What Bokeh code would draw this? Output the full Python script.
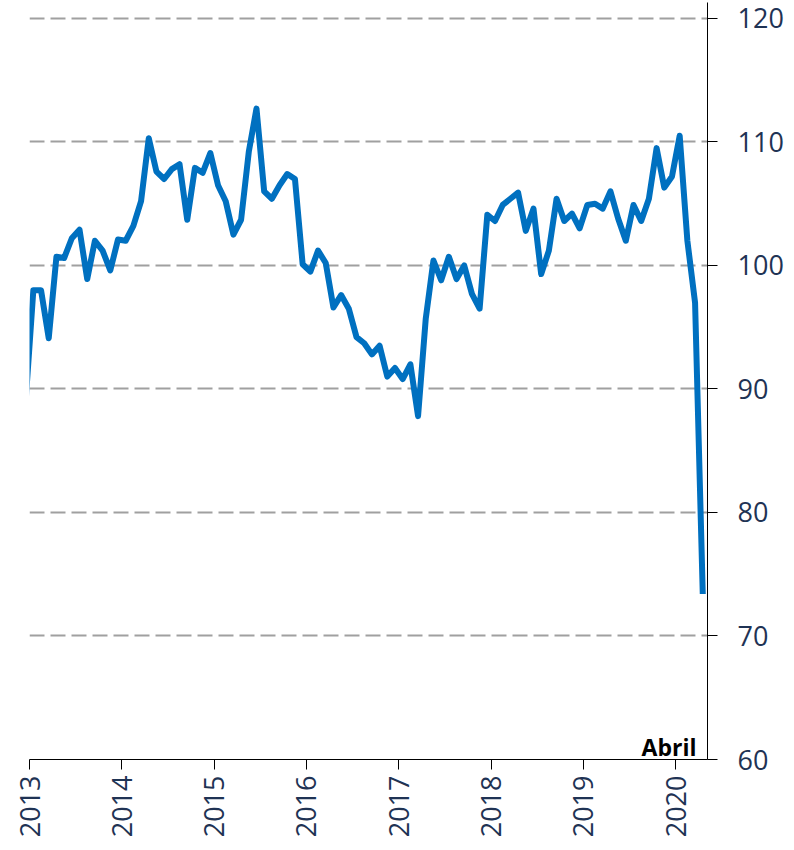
from math import pi
from bokeh.plotting import figure
from bokeh.models import Range1d, FixedTicker, Label, ColumnDataSource
from bokeh.embed import file_html
from bokeh.resources import INLINE

# ---- data (monthly index, Dec 2012 .. Apr 2020) ----
start_year = 2012
start_month = 12
values = [
    89.0,
    98.0, 98.0, 94.1, 100.7, 100.6, 102.2, 102.9, 98.9, 102.0, 101.2, 99.6, 102.1,
    102.0, 103.2, 105.2, 110.3, 107.6, 107.0, 107.8, 108.2, 103.7, 107.9, 107.5, 109.1,
    106.5, 105.2, 102.5, 103.7, 109.2, 112.7, 106.0, 105.4, 106.5, 107.4, 107.0, 100.1,
    99.5, 101.2, 100.2, 96.6, 97.6, 96.5, 94.2, 93.7, 92.8, 93.5, 91.0, 91.7,
    90.8, 92.0, 87.8, 95.7, 100.4, 98.8, 100.7, 98.9, 100.0, 97.7, 96.5, 104.1,
    103.6, 104.9, 105.4, 105.9, 102.8, 104.6, 99.3, 101.2, 105.4, 103.6, 104.2, 103.0,
    104.9, 105.0, 104.6, 106.0, 103.8, 102.0, 104.9, 103.6, 105.4, 109.5, 106.3, 107.2,
    110.5, 102.0, 97.0, 73.4,
]
year_ticks = [2013, 2014, 2015, 2016, 2017, 2018, 2019, 2020]
y_ticks = [60, 70, 80, 90, 100, 110, 120]
annotation_text = "Abril"

# mid-month positions in decimal years
xs = [start_year + (start_month - 1 + i + 0.5) / 12 for i in range(len(values))]
source = ColumnDataSource(data=dict(x=xs, y=values))

x_start, x_end = 2013.0, 2020.343
y_start, y_end = 60, 121.29

text_color = "#1F3354"
line_color = "#0070C0"

p = figure(
    width=786, height=840,
    x_range=Range1d(x_start, x_end), y_range=Range1d(y_start, y_end),
    y_axis_location="right",
    output_backend="svg", toolbar_location=None,
    min_border_left=29, min_border_right=78, min_border_top=2, min_border_bottom=79,
)
p.outline_line_color = None
p.background_fill_color = "white"
p.border_fill_color = "white"

p.xgrid.visible = False
p.ygrid.ticker = FixedTicker(ticks=y_ticks)
p.ygrid.grid_line_color = "#A0A0A0"
p.ygrid.grid_line_width = 2
p.ygrid.grid_line_dash = "15 6"

yax = p.yaxis[0]
yax.ticker = FixedTicker(ticks=y_ticks)
yax.axis_line_color = "black"
yax.axis_line_width = 1
yax.major_tick_line_color = "black"
yax.major_tick_out = 10
yax.major_tick_in = 0
yax.minor_tick_line_color = None
yax.major_label_text_font = "Open Sans"
yax.major_label_text_font_size = "27px"
yax.major_label_text_color = text_color
yax.major_label_standoff = 20

xax = p.xaxis[0]
xax.ticker = FixedTicker(ticks=year_ticks)
xax.axis_line_color = "black"
xax.axis_line_width = 1
xax.major_tick_line_color = "black"
xax.major_tick_out = 10
xax.major_tick_in = 0
xax.minor_tick_line_color = None
xax.major_label_orientation = pi / 2
xax.major_label_text_font = "Open Sans"
xax.major_label_text_font_size = "27px"
xax.major_label_text_color = text_color
xax.major_label_standoff = 6

p.line("x", "y", source=source, line_color=line_color, line_width=6, line_join="round")

lbl = Label(x=x_end, y=y_start, x_offset=-11, y_offset=13, text=annotation_text,
            text_font="Open Sans", text_font_style="bold", text_font_size="23px",
            text_color="black", text_align="right", text_baseline="alphabetic")
p.add_layout(lbl)

open("out.html", "w").write(file_html(p, INLINE))
